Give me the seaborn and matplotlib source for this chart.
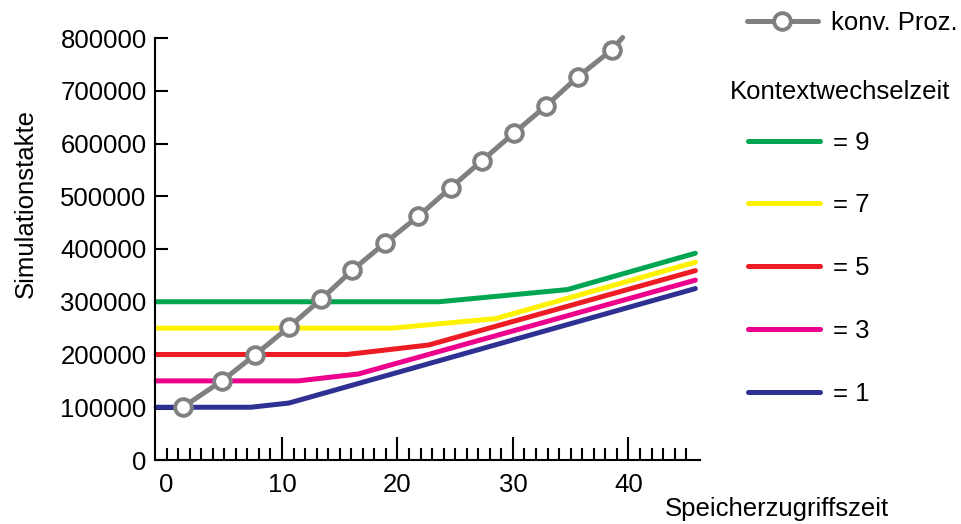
import pandas as pd
import matplotlib
matplotlib.use("Agg")
import matplotlib.pyplot as plt
from matplotlib.lines import Line2D
import seaborn as sns

# --- data ---
konv_x = [1.4, 4.8, 7.7, 10.6, 13.4, 16.1, 18.9, 21.8, 24.6, 27.3, 30.1, 32.9, 35.6, 38.6, 39.5]
konv_y = [100000, 150000, 200000, 252000, 305000, 360000, 411000, 462000,
          516000, 567000, 620000, 672000, 726000, 778000, 801000]

x9 = [-0.9, 23.6, 34.7, 45.8]
y9 = [300000, 300000, 323000, 392000]
x7 = [-0.9, 19.5, 28.5, 45.8]
y7 = [250000, 250000, 268000, 375000]
x5 = [-0.9, 15.6, 22.7, 45.8]
y5 = [200000, 200000, 218000, 359000]
x3 = [-0.9, 11.4, 16.6, 45.8]
y3 = [150000, 150000, 163000, 341000]
x1 = [-0.9, 7.3, 10.6, 45.8]
y1 = [100000, 100000, 108000, 325000]
# short black stub at the start of the "= 1" line
x_stub = [-0.9, 0.6]
y_stub = [100000, 100000]

ctx_labels = ["= 9", "= 7", "= 5", "= 3", "= 1"]
ctx_colors = ["#00a651", "#fff200", "#ed1c24", "#ec008c", "#2e3192"]
x_ticks = [0, 10, 20, 30, 40]
y_ticks = [0, 100000, 200000, 300000, 400000, 500000, 600000, 700000, 800000]

FS = 18.5
W, H = 961, 524
GRAY = "#808080"

sns.set_style("ticks", {"text.color": "black", "axes.labelcolor": "black",
                        "xtick.color": "black", "ytick.color": "black",
                        "axes.edgecolor": "black"})
plt.rcParams["font.family"] = ["Liberation Sans", "DejaVu Sans"]

fig = plt.figure(figsize=(W / 100, H / 100), dpi=100)
ax = fig.add_axes([155 / W, 1 - 460 / H, (700 - 155) / W, (460 - 38) / H])

# --- context switch lines ---
ctx = pd.concat([
    pd.DataFrame({"x": xs, "y": ys, "k": lab})
    for xs, ys, lab in zip([x9, x7, x5, x3, x1], [y9, y7, y5, y3, y1], ctx_labels)
])
sns.lineplot(x=x_stub, y=y_stub, color="black", linewidth=3.6, ax=ax, estimator=None,
             sort=False, clip_on=False)
sns.lineplot(data=ctx, x="x", y="y", hue="k", hue_order=ctx_labels,
             palette=dict(zip(ctx_labels, ctx_colors)), sort=False, estimator=None,
             linewidth=3.6, ax=ax, legend=False, solid_capstyle="round", clip_on=False)

# --- conventional processor ---
konv = pd.DataFrame({"x": konv_x, "y": konv_y})
sns.lineplot(data=konv, x="x", y="y", color=GRAY, linewidth=3.6, sort=False,
             estimator=None, marker="o", markersize=12, markerfacecolor="white",
             markeredgecolor=GRAY, markeredgewidth=2.8,
             markevery=list(range(len(konv_x) - 1)),
             ax=ax, solid_capstyle="round", clip_on=False, zorder=5)

ax.set_xlim(-1.0, 46.2)
ax.set_ylim(0, 800000)
ax.set_xticks(x_ticks)
ax.set_xticks(range(0, 46), minor=True)
ax.set_yticks(y_ticks)
ax.set_yticklabels([str(v) for v in y_ticks])
ax.tick_params(axis="x", which="major", direction="in", length=16.5, width=1.5,
               labelsize=FS, pad=9)
ax.tick_params(axis="x", which="minor", direction="in", length=8.5, width=1.5)
ax.tick_params(axis="y", direction="in", length=9, width=1.5, labelsize=FS, pad=6)
ax.xaxis.get_major_ticks()[0].tick1line.set_markersize(8.5)
ax.spines[["top", "right"]].set_visible(False)
for s in ["left", "bottom"]:
    ax.spines[s].set_linewidth(1.5)
ax.set_xlabel("")
ax.set_ylabel("")

fig.text(665 / W, 1 - 516 / H, "Speicherzugriffszeit", fontsize=FS, ha="left", va="baseline")
fig.text(33 / W, 1 - 203 / H, "Simulationstakte", fontsize=FS, rotation=90,
         ha="center", va="baseline", rotation_mode="anchor")

# --- legends ---
konv_handle = Line2D([], [], color=GRAY, linewidth=3.6, marker="o", markersize=12,
                     markerfacecolor="white", markeredgecolor=GRAY, markeredgewidth=2.8)
ctx_handles = [Line2D([], [], color=c, linewidth=3.6) for c in ctx_colors]

fig.legend([konv_handle], ["konv. Proz."], loc="upper left",
           bbox_to_anchor=(747 / W, 1 - 11 / H), frameon=False, fontsize=FS,
           borderpad=0, borderaxespad=0, handlelength=2.75, handletextpad=0.5)
fig.text(730 / W, 1 - 92 / H, "Kontextwechselzeit", fontsize=FS, ha="left", va="center")
fig.legend(ctx_handles, ctx_labels, loc="upper left",
           bbox_to_anchor=(748 / W, 1 - 130.5 / H), frameon=False, fontsize=FS,
           borderpad=0, borderaxespad=0, handlelength=2.8, handletextpad=0.5,
           labelspacing=1.51)

fig.savefig("out.png", dpi=100)
